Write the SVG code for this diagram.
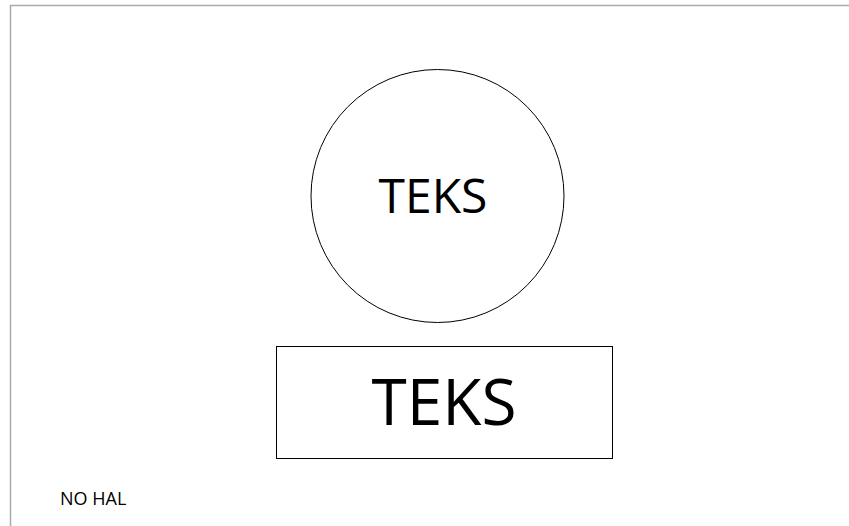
<svg xmlns="http://www.w3.org/2000/svg" width="849" height="526" viewBox="0 0 849 526">
<style>
text{font-family:"Open Sans","Noto Sans",sans-serif;fill:#000;}
.shape{fill:#fff;stroke:#000;stroke-width:1;}
</style>
<rect x="0" y="0" width="849" height="526" fill="#fff"/>
<rect x="10.5" y="5.5" width="900" height="600" fill="none" stroke="#aaa" stroke-width="1.5"/>
<g id="circle-node">
<circle class="shape" cx="437.5" cy="196" r="126.5"/>
<text x="433" y="213" font-size="48" text-anchor="middle">TEKS</text>
</g>
<g id="rect-node">
<rect class="shape" x="276.5" y="346.5" width="336" height="112"/>
<text x="444" y="425" font-size="64" text-anchor="middle">TEKS</text>
</g>
<g id="note">
<text x="60" y="505" font-size="18">NO HAL</text>
</g>
<g id="connectors"></g>
</svg>
